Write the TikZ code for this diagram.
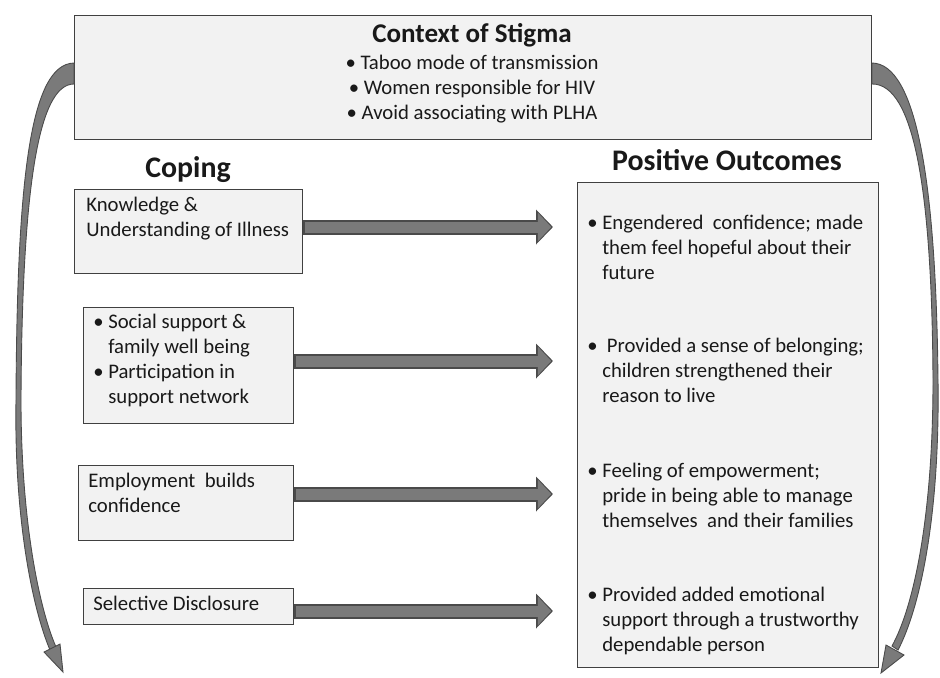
\documentclass[tikz,border=0pt]{standalone}
\usepackage{fontspec}
\setmainfont{Carlito}
\usepackage{tikz}
\usetikzlibrary{calc,arrows.meta}
\definecolor{boxfill}{HTML}{F2F2F2}
\definecolor{boxline}{HTML}{404040}
\definecolor{arrfill}{HTML}{7A7A7A}
\definecolor{arrline}{HTML}{4A4A4A}
\newcommand{\bul}{\makebox[8.5pt][l]{\textbullet}}
\newcommand{\ind}{\hspace*{8.5pt}}

\begin{document}
\begin{tikzpicture}[x=0.02cm,y=-0.02cm,
  cbox/.style={draw=boxline,fill=boxfill,line width=0.8pt,inner sep=0,anchor=north west},
  ctext/.style={inner sep=0,anchor=north west,align=left,text=black!90,font=\fontsize{11.8}{14.2}\selectfont},
  chead/.style={inner sep=0,text=black!90,font=\fontsize{17}{20}\selectfont\bfseries},
  fatout/.style={line width=0.30cm,arrline,-{Triangle[width=0.68cm,length=0.34cm]}},
  fatin/.style={line width=0.22cm,arrfill,shorten >=0.035cm,-{Triangle[width=0.56cm,length=0.27cm]}},
  curvarr/.style={fill=arrfill,draw=arrline,line width=0.5pt}]
\useasboundingbox (0,0) rectangle (940,677);
% boxes
\node[cbox,minimum width=15.94cm,minimum height=2.48cm](stig)at(74,15){};
\node[cbox,minimum width=4.56cm,minimum height=1.68cm](know)at(74,189){};
\node[cbox,minimum width=4.2cm,minimum height=2.32cm](soc)at(83,307){};
\node[cbox,minimum width=4.3cm,minimum height=1.5cm](emp)at(78,465){};
\node[cbox,minimum width=4.2cm,minimum height=0.72cm](disc)at(83,588){};
\node[cbox,minimum width=6.02cm,minimum height=9.7cm](outc)at(577,182){};
% headings
\node[chead,font=\fontsize{15.4}{18}\selectfont\bfseries](stigtitle)at(472,35){Context of Stigma};
\node[ctext,anchor=center,align=center](stiglist)at(472,89){\textbullet\ Taboo mode of transmission\\\textbullet\ Women responsible for HIV\\\textbullet\ Avoid associating with PLHA};
\node[chead](coping)at(188,170){Coping};
\node[chead](positive)at(727,160){Positive Outcomes};
% coping texts
\node[ctext](knowtext)at(86,197){Knowledge \&\\Understanding of Illness};
\node[ctext](soctext)at(93,314){\bul Social support \&\\\ind family well being\\\bul Participation in\\\ind support network};
\node[ctext](emptext)at(88,473){Employment\ \ builds\\confidence};
\node[ctext](disctext)at(93,596){Selective Disclosure};
% outcome texts
\node[ctext](out1)at(587,215){\bul Engendered\ \ confidence; made\\\ind them feel hopeful about their\\\ind future};
\node[ctext](out2)at(587,338){\bul \ Provided a sense of belonging;\\\ind children strengthened their\\\ind reason to live};
\node[ctext](out3)at(587,463){\bul Feeling of empowerment;\\\ind pride in being able to manage\\\ind themselves\ \ and their families};
\node[ctext](out4)at(587,587){\bul Provided added emotional\\\ind support through a trustworthy\\\ind dependable person};
% block arrows
\coordinate(t1)at(553,227);
\coordinate(t2)at(553,361);
\coordinate(t3)at(553,494);
\coordinate(t4)at(553,611);
\foreach \b/\t in {know/t1,soc/t2,emp/t3,disc/t4}{
  \draw[fatout](\b.east|-\t)--(\t);
  \draw[fatin]([xshift=0.8pt]\b.east|-\t)--(\t);
}
% curved arrows
\filldraw[curvarr](stig.west|-0,63)..controls(30,64)and(17,180)..(16,400)..controls(14,520)and(33,610)..(50,650)
  --(56,647)..controls(39,608)and(21,520)..(21,400)..controls(22,190)and(38,84)..(stig.west|-0,84)--cycle;
\filldraw[curvarr](44,652)--(60,644)--(63,672)--cycle;
\filldraw[curvarr](stig.east|-0,63)..controls(916,64)and(936,180)..(938,380)..controls(940,520)and(919,610)..(898,650)
  --(892,646)..controls(913,608)and(933,520)..(933,380)..controls(932,190)and(914,84)..(stig.east|-0,84)--cycle;
\filldraw[curvarr](904,655)--(886,645)--(881,673)--cycle;
\end{tikzpicture}
\end{document}
